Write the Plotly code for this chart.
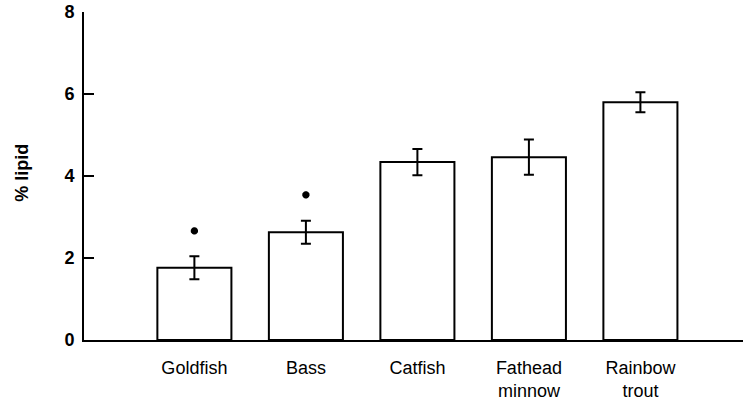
import plotly.graph_objects as go

# Data
categories = ["Goldfish", "Bass", "Catfish", "Fathead<br>minnow", "Rainbow<br>trout"]
lipid_pct = [1.76, 2.63, 4.34, 4.46, 5.80]
lipid_err = [0.28, 0.28, 0.32, 0.43, 0.245]
sig_categories = ["Goldfish", "Bass"]
sig_y = [2.66, 3.54]
y_ticks = [0, 2, 4, 6, 8]

FONT = "Liberation Sans, Arial, sans-serif"

fig = go.Figure()
fig.add_trace(go.Bar(
    x=categories, y=lipid_pct,
    marker=dict(color="white", line=dict(color="black", width=2)),
    error_y=dict(type="data", array=lipid_err, visible=True,
                 color="black", thickness=2, width=5),
    showlegend=False,
))
fig.add_trace(go.Scatter(
    x=sig_categories, y=sig_y, mode="markers",
    marker=dict(symbol="asterisk-open", size=6, color="black",
                line=dict(color="black", width=2.5)),
    showlegend=False,
))

fig.update_layout(
    width=745, height=401,
    margin=dict(l=84, r=2, t=12, b=61),
    plot_bgcolor="white", paper_bgcolor="white",
    bargap=0.336,
    font=dict(family=FONT, color="black"),
    xaxis=dict(
        type="category", range=[-0.99, 4.92],
        showline=True, linecolor="black", linewidth=2,
        ticks="", showgrid=False, zeroline=False,
        tickfont=dict(size=18, family=FONT, color="black"),
        ticklabelstandoff=10, automargin=False,
    ),
    yaxis=dict(
        range=[0, 8], tickvals=y_ticks,
        showline=True, linecolor="black", linewidth=2,
        ticks="inside", ticklen=10, tickwidth=2, tickcolor="black",
        showgrid=False, zeroline=False,
        tickfont=dict(size=18, family=FONT, color="black", weight="bold"),
        ticklabelstandoff=4, automargin=False,
    ),
    annotations=[dict(
        text="% lipid", textangle=-90,
        xref="paper", yref="paper",
        x=(22 - 84) / 659, y=0.51, xanchor="center", yanchor="middle",
        showarrow=False,
        font=dict(size=18, family=FONT, color="black", weight="bold"),
    )],
)

fig.write_html("out.html")
